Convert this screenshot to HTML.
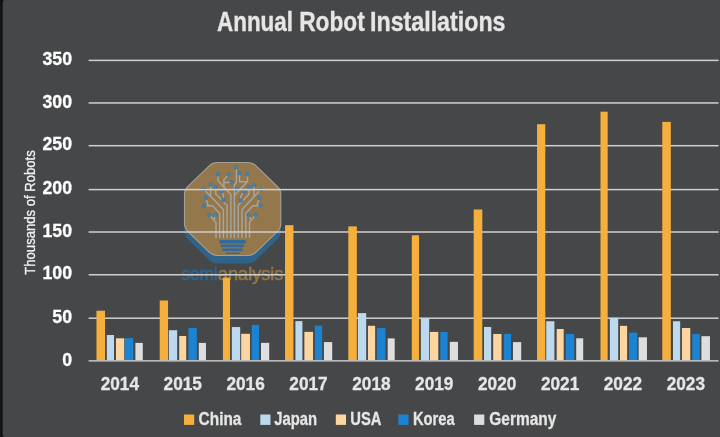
<!DOCTYPE html>
<html><head><meta charset="utf-8"><title>Annual Robot Installations</title>
<style>
html,body{margin:0;padding:0;background:#464749;}
body{width:720px;height:437px;overflow:hidden;position:relative;font-family:"Liberation Sans",sans-serif;}
svg{position:absolute;left:0;top:0;display:block;will-change:transform;}
text{font-family:"Liberation Sans",sans-serif;}
</style></head><body>
<svg width="720" height="437" viewBox="0 0 720 437">
<rect x="0" y="0" width="720" height="437" fill="#121315"/>
<rect x="3.2" y="-2.5" width="730" height="442" rx="6" ry="6" fill="#464749" stroke="#4F5052" stroke-width="0.8"/>

<g id="wm">
<path d="M209.13,173.09 Q212.71,169.60 217.71,169.60 L247.59,169.60 Q252.59,169.60 256.17,173.09 L277.22,193.64 Q280.80,197.13 280.80,202.13 L280.80,231.07 Q280.80,236.07 277.22,239.56 L256.17,260.11 Q252.59,263.60 247.59,263.60 L217.71,263.60 Q212.71,263.60 209.13,260.11 L188.08,239.56 Q184.50,236.07 184.50,231.07 L184.50,202.13 Q184.50,197.13 188.08,193.64 Z" fill="#2F638A"/>
<path d="M209.47,165.63 Q212.71,162.50 217.21,162.50 L248.09,162.50 Q252.59,162.50 255.83,165.63 L277.56,186.61 Q280.80,189.74 280.80,194.24 L280.80,223.76 Q280.80,228.26 277.56,231.39 L255.83,252.37 Q252.59,255.50 248.09,255.50 L217.21,255.50 Q212.71,255.50 209.47,252.37 L187.74,231.39 Q184.50,228.26 184.50,223.76 L184.50,194.24 Q184.50,189.74 187.74,186.61 Z" fill="#94774A" stroke="#A5A198" stroke-width="1.1"/>
<g fill="none" stroke="#A6A59F" stroke-width="1.45" stroke-linejoin="round">
<path d="M209.4,214.8 L216,222.4 V238"/>
<path d="M215.6,214.8 L213.9,220"/>
<path d="M204.3,205.7 H212.5 L219.7,213.5 V238"/>
<path d="M205.8,198 L208.2,205.7"/>
<path d="M203.7,189.2 L223.4,209.5 V238"/>
<path d="M210.6,184.6 V196.3"/>
<path d="M215.7,187.1 V194 L227.1,205.5 V238"/>
<path d="M221.5,190.9 L223.4,195 V200"/>
<path d="M218,174.2 V180.75 L230.9,194.5 V238"/>
<path d="M228.75,174.5 L223.9,179.4 V187"/>
<path d="M231.9,182.5 H223.9"/>
<path d="M236.4,167.2 V182 L234.4,185 V238"/>
<path d="M247.5,174.2 V181.4 L234.4,195.5"/>
<path d="M239.5,173.1 V181.8 H247.2"/>
<path d="M249.1,187.1 V194 L238.2,205.5 V238"/>
<path d="M243.8,191.1 L240.9,196 V200.6"/>
<path d="M260.7,189.7 L242,209.5 V238"/>
<path d="M254.1,185.1 V196.7"/>
<path d="M260.7,205.7 H252.8 L245.8,213.5 V238"/>
<path d="M259.2,198 L256.9,205.7"/>
<path d="M255.9,214.8 L249.5,222.4 V238"/>
<path d="M248.6,215 L251.2,220"/>
</g>
<g fill="#6A8494" stroke="#447BA4" stroke-width="1.5">
<circle cx="209.4" cy="214.8" r="1.5"/>
<circle cx="215.6" cy="214.8" r="1.5"/>
<circle cx="204.3" cy="205.7" r="1.5"/>
<circle cx="205.8" cy="198" r="1.5"/>
<circle cx="203.7" cy="189.2" r="1.5"/>
<circle cx="210.6" cy="184.6" r="1.5"/>
<circle cx="215.7" cy="187.1" r="1.5"/>
<circle cx="221.5" cy="190.9" r="1.5"/>
<circle cx="223.4" cy="200" r="1.5"/>
<circle cx="218" cy="174.2" r="1.5"/>
<circle cx="228.75" cy="174.5" r="1.5"/>
<circle cx="231.9" cy="182.5" r="1.5"/>
<circle cx="236.4" cy="167.2" r="1.5"/>
<circle cx="247.5" cy="174.2" r="1.5"/>
<circle cx="239.5" cy="173.1" r="1.5"/>
<circle cx="249.1" cy="187.1" r="1.5"/>
<circle cx="243.8" cy="191.1" r="1.5"/>
<circle cx="240.9" cy="200.6" r="1.5"/>
<circle cx="260.7" cy="189.7" r="1.5"/>
<circle cx="254.1" cy="185.1" r="1.5"/>
<circle cx="260.7" cy="205.7" r="1.5"/>
<circle cx="259.2" cy="198" r="1.5"/>
<circle cx="255.9" cy="214.8" r="1.5"/>
<circle cx="248.6" cy="215" r="1.5"/>
<circle cx="236.4" cy="188.7" r="1.5"/>
</g>
<rect x="219.4" y="240.0" width="26.4" height="3.4" rx="0.8" fill="#336A9C"/>
<rect x="220.7" y="244.6" width="23.4" height="2.6" rx="0.8" fill="#336A9C"/>
<rect x="222.3" y="248.5" width="20.4" height="2.6" rx="0.8" fill="#336A9C"/>
<rect x="225.8" y="252.4" width="13.9" height="1.7" rx="0.8" fill="#336A9C"/>
<text x="181.6" y="279.7" font-size="17.7" fill="#2D658F" stroke="#2D658F" stroke-width="0.6" textLength="36" lengthAdjust="spacingAndGlyphs">semi</text>
<text x="218" y="279.7" font-size="17.7" fill="#947643" stroke="#947643" stroke-width="0.6" textLength="65.3" lengthAdjust="spacingAndGlyphs">analysis</text>
</g>
<rect x="88.6" y="59.65" width="630.0" height="1.5" fill="#D0D0D0"/>
<rect x="88.6" y="102.20" width="630.0" height="1.5" fill="#D0D0D0"/>
<rect x="88.6" y="144.95" width="630.0" height="1.5" fill="#D0D0D0"/>
<rect x="88.6" y="188.85" width="630.0" height="1.5" fill="#D0D0D0"/>
<rect x="88.6" y="231.25" width="630.0" height="1.5" fill="#D0D0D0"/>
<rect x="88.6" y="274.01" width="630.0" height="1.5" fill="#D0D0D0"/>
<rect x="88.6" y="317.45" width="630.0" height="1.5" fill="#D0D0D0"/>
<rect x="96.45" y="310.70" width="8.61" height="49.60" fill="#F5AF3C"/>
<rect x="106.85" y="335.00" width="7.15" height="25.30" fill="#BDD9EE"/>
<rect x="115.96" y="338.30" width="8.32" height="22.00" fill="#FCD5A0"/>
<rect x="124.75" y="338.10" width="8.55" height="22.20" fill="#1C83D2"/>
<rect x="135.40" y="342.90" width="7.40" height="17.40" fill="#DEDEDE"/>
<rect x="159.70" y="300.50" width="8.36" height="59.80" fill="#F5AF3C"/>
<rect x="168.84" y="330.20" width="8.33" height="30.10" fill="#BDD9EE"/>
<rect x="179.20" y="336.00" width="7.00" height="24.30" fill="#FCD5A0"/>
<rect x="188.50" y="327.90" width="8.36" height="32.40" fill="#1C83D2"/>
<rect x="198.80" y="342.90" width="7.16" height="17.40" fill="#DEDEDE"/>
<rect x="222.90" y="277.60" width="7.15" height="82.70" fill="#F5AF3C"/>
<rect x="231.84" y="327.05" width="8.33" height="33.25" fill="#BDD9EE"/>
<rect x="241.18" y="333.80" width="8.79" height="26.50" fill="#FCD5A0"/>
<rect x="251.70" y="324.95" width="7.38" height="35.35" fill="#1C83D2"/>
<rect x="261.00" y="342.86" width="8.20" height="17.44" fill="#DEDEDE"/>
<rect x="285.05" y="225.20" width="8.40" height="135.10" fill="#F5AF3C"/>
<rect x="295.40" y="321.10" width="7.00" height="39.20" fill="#BDD9EE"/>
<rect x="304.35" y="331.85" width="8.71" height="28.45" fill="#FCD5A0"/>
<rect x="314.85" y="325.60" width="7.24" height="34.70" fill="#1C83D2"/>
<rect x="323.96" y="342.10" width="8.24" height="18.20" fill="#DEDEDE"/>
<rect x="348.30" y="226.40" width="8.54" height="133.90" fill="#F5AF3C"/>
<rect x="357.85" y="313.10" width="8.33" height="47.20" fill="#BDD9EE"/>
<rect x="367.97" y="325.80" width="7.16" height="34.50" fill="#FCD5A0"/>
<rect x="376.84" y="328.05" width="8.56" height="32.25" fill="#1C83D2"/>
<rect x="387.70" y="338.40" width="7.00" height="21.90" fill="#DEDEDE"/>
<rect x="411.80" y="235.30" width="7.26" height="125.00" fill="#F5AF3C"/>
<rect x="420.85" y="318.05" width="8.33" height="42.25" fill="#BDD9EE"/>
<rect x="429.96" y="331.90" width="8.32" height="28.40" fill="#FCD5A0"/>
<rect x="440.30" y="331.90" width="7.30" height="28.40" fill="#1C83D2"/>
<rect x="449.80" y="341.86" width="8.17" height="18.44" fill="#DEDEDE"/>
<rect x="473.70" y="209.50" width="8.60" height="150.80" fill="#F5AF3C"/>
<rect x="484.00" y="326.95" width="7.17" height="33.35" fill="#BDD9EE"/>
<rect x="493.20" y="333.95" width="8.30" height="26.35" fill="#FCD5A0"/>
<rect x="503.85" y="333.95" width="7.25" height="26.35" fill="#1C83D2"/>
<rect x="512.96" y="342.10" width="8.24" height="18.20" fill="#DEDEDE"/>
<rect x="537.05" y="124.20" width="8.25" height="236.10" fill="#F5AF3C"/>
<rect x="546.23" y="321.24" width="8.17" height="39.06" fill="#BDD9EE"/>
<rect x="556.70" y="329.00" width="7.00" height="31.30" fill="#FCD5A0"/>
<rect x="565.70" y="334.00" width="8.55" height="26.30" fill="#1C83D2"/>
<rect x="576.20" y="338.30" width="7.00" height="22.00" fill="#DEDEDE"/>
<rect x="600.50" y="111.70" width="7.17" height="248.60" fill="#F5AF3C"/>
<rect x="609.85" y="317.85" width="8.33" height="42.45" fill="#BDD9EE"/>
<rect x="619.97" y="325.85" width="7.16" height="34.45" fill="#FCD5A0"/>
<rect x="629.07" y="332.60" width="8.18" height="27.70" fill="#1C83D2"/>
<rect x="638.65" y="337.30" width="8.32" height="23.00" fill="#DEDEDE"/>
<rect x="662.27" y="121.90" width="8.56" height="238.40" fill="#F5AF3C"/>
<rect x="673.00" y="321.24" width="7.17" height="39.06" fill="#BDD9EE"/>
<rect x="681.96" y="328.00" width="8.32" height="32.30" fill="#FCD5A0"/>
<rect x="692.30" y="333.84" width="7.56" height="26.46" fill="#1C83D2"/>
<rect x="701.40" y="336.20" width="8.57" height="24.10" fill="#DEDEDE"/>
<rect x="88.6" y="360.1" width="630.0" height="1.5" fill="#C4C4C6"/>
<text x="42.49" y="65.10" font-size="18.4" font-weight="bold" fill="#FFFFFF" stroke="#FFFFFF" stroke-width="0.3" textLength="29.61" lengthAdjust="spacingAndGlyphs">350</text>
<text x="42.49" y="107.65" font-size="18.4" font-weight="bold" fill="#FFFFFF" stroke="#FFFFFF" stroke-width="0.3" textLength="29.61" lengthAdjust="spacingAndGlyphs">300</text>
<text x="42.49" y="150.40" font-size="18.4" font-weight="bold" fill="#FFFFFF" stroke="#FFFFFF" stroke-width="0.3" textLength="29.61" lengthAdjust="spacingAndGlyphs">250</text>
<text x="42.49" y="194.30" font-size="18.4" font-weight="bold" fill="#FFFFFF" stroke="#FFFFFF" stroke-width="0.3" textLength="29.61" lengthAdjust="spacingAndGlyphs">200</text>
<text x="42.49" y="236.70" font-size="18.4" font-weight="bold" fill="#FFFFFF" stroke="#FFFFFF" stroke-width="0.3" textLength="29.61" lengthAdjust="spacingAndGlyphs">150</text>
<text x="42.49" y="279.46" font-size="18.4" font-weight="bold" fill="#FFFFFF" stroke="#FFFFFF" stroke-width="0.3" textLength="29.61" lengthAdjust="spacingAndGlyphs">100</text>
<text x="52.36" y="322.90" font-size="18.4" font-weight="bold" fill="#FFFFFF" stroke="#FFFFFF" stroke-width="0.3" textLength="19.74" lengthAdjust="spacingAndGlyphs">50</text>
<text x="62.23" y="365.56" font-size="18.4" font-weight="bold" fill="#FFFFFF" stroke="#FFFFFF" stroke-width="0.3" textLength="9.87" lengthAdjust="spacingAndGlyphs">0</text>
<text x="100.64" y="390" font-size="18.4" font-weight="bold" fill="#E6E6E6" stroke="#E6E6E6" stroke-width="0.3" textLength="38.4" lengthAdjust="spacingAndGlyphs">2014</text>
<text x="163.54" y="390" font-size="18.4" font-weight="bold" fill="#E6E6E6" stroke="#E6E6E6" stroke-width="0.3" textLength="38.4" lengthAdjust="spacingAndGlyphs">2015</text>
<text x="226.43" y="390" font-size="18.4" font-weight="bold" fill="#E6E6E6" stroke="#E6E6E6" stroke-width="0.3" textLength="38.4" lengthAdjust="spacingAndGlyphs">2016</text>
<text x="289.31" y="390" font-size="18.4" font-weight="bold" fill="#E6E6E6" stroke="#E6E6E6" stroke-width="0.3" textLength="38.4" lengthAdjust="spacingAndGlyphs">2017</text>
<text x="352.20" y="390" font-size="18.4" font-weight="bold" fill="#E6E6E6" stroke="#E6E6E6" stroke-width="0.3" textLength="38.4" lengthAdjust="spacingAndGlyphs">2018</text>
<text x="415.09" y="390" font-size="18.4" font-weight="bold" fill="#E6E6E6" stroke="#E6E6E6" stroke-width="0.3" textLength="38.4" lengthAdjust="spacingAndGlyphs">2019</text>
<text x="477.99" y="390" font-size="18.4" font-weight="bold" fill="#E6E6E6" stroke="#E6E6E6" stroke-width="0.3" textLength="38.4" lengthAdjust="spacingAndGlyphs">2020</text>
<text x="540.88" y="390" font-size="18.4" font-weight="bold" fill="#E6E6E6" stroke="#E6E6E6" stroke-width="0.3" textLength="38.4" lengthAdjust="spacingAndGlyphs">2021</text>
<text x="603.76" y="390" font-size="18.4" font-weight="bold" fill="#E6E6E6" stroke="#E6E6E6" stroke-width="0.3" textLength="38.4" lengthAdjust="spacingAndGlyphs">2022</text>
<text x="666.65" y="390" font-size="18.4" font-weight="bold" fill="#E6E6E6" stroke="#E6E6E6" stroke-width="0.3" textLength="38.4" lengthAdjust="spacingAndGlyphs">2023</text>
<text x="217.0" y="31" font-size="26.8" font-weight="bold" fill="#E6E6E6" stroke="#E6E6E6" stroke-width="0.35" textLength="76.0" lengthAdjust="spacingAndGlyphs">Annual</text>
<text x="299.2" y="31" font-size="26.8" font-weight="bold" fill="#E6E6E6" stroke="#E6E6E6" stroke-width="0.35" textLength="65.5" lengthAdjust="spacingAndGlyphs">Robot</text>
<text x="370.0" y="31" font-size="26.8" font-weight="bold" fill="#E6E6E6" stroke="#E6E6E6" stroke-width="0.35" textLength="135.5" lengthAdjust="spacingAndGlyphs">Installations</text>
<text transform="translate(35,274.7) rotate(-90)" font-size="13.9" fill="#F2F2F2" stroke="#F2F2F2" stroke-width="0.3" textLength="124.5" lengthAdjust="spacingAndGlyphs">Thousands of Robots</text>
<rect x="184" y="414.5" width="10.2" height="10.4" fill="#F5AF3C"/>
<text x="198.6" y="425.2" font-size="19.2" font-weight="bold" fill="#E6E6E6" stroke="#E6E6E6" stroke-width="0.3" textLength="42.8" lengthAdjust="spacingAndGlyphs">China</text>
<rect x="260.3" y="414.5" width="10.2" height="10.4" fill="#BDD9EE"/>
<text x="274.2" y="425.2" font-size="19.2" font-weight="bold" fill="#E6E6E6" stroke="#E6E6E6" stroke-width="0.3" textLength="42.8" lengthAdjust="spacingAndGlyphs">Japan</text>
<rect x="335.8" y="414.5" width="10.2" height="10.4" fill="#FCD5A0"/>
<text x="350.3" y="425.2" font-size="19.2" font-weight="bold" fill="#E6E6E6" stroke="#E6E6E6" stroke-width="0.3" textLength="31.2" lengthAdjust="spacingAndGlyphs">USA</text>
<rect x="398.3" y="414.5" width="10.2" height="10.4" fill="#1C83D2"/>
<text x="413" y="425.2" font-size="19.2" font-weight="bold" fill="#E6E6E6" stroke="#E6E6E6" stroke-width="0.3" textLength="41.7" lengthAdjust="spacingAndGlyphs">Korea</text>
<rect x="474.1" y="414.5" width="10.2" height="10.4" fill="#DEDEDE"/>
<text x="489.3" y="425.2" font-size="19.2" font-weight="bold" fill="#E6E6E6" stroke="#E6E6E6" stroke-width="0.3" textLength="67" lengthAdjust="spacingAndGlyphs">Germany</text>
</svg></body></html>
